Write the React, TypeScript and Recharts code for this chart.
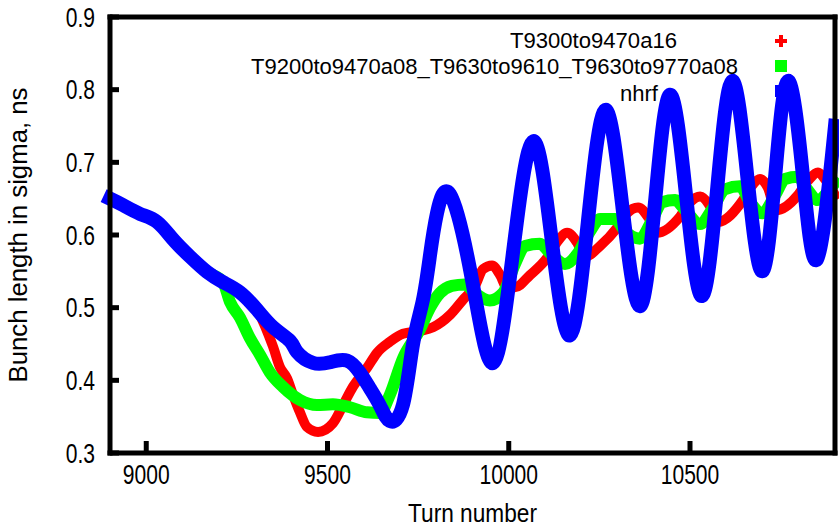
import React from "react";
import { LineChart, Line, XAxis, YAxis, Legend } from "recharts";

// turn numbers and bunch length (sigma, ns)
const nhrfTurns = [
  8900, 8936, 8983, 9030, 9074, 9121, 9168, 9212, 9259, 9306, 9350, 9397, 9416, 9460, 9507, 9554, 9590, 9617, 9645,
  9672, 9708, 9736, 9763, 9783, 9802, 9838, 9898, 9957, 10012, 10067, 10118, 10169, 10218, 10266, 10314, 10362,
  10404, 10445, 10489, 10533, 10575, 10616, 10658, 10699, 10735, 10770, 10810, 10850, 10900,
];
const nhrfSigma = [
  0.65, 0.641, 0.629, 0.618, 0.594, 0.57, 0.549, 0.535, 0.521, 0.497, 0.473, 0.454, 0.439, 0.424, 0.425, 0.427, 0.41,
  0.389, 0.365, 0.344, 0.366, 0.45, 0.51, 0.573, 0.63, 0.656, 0.54, 0.424, 0.577, 0.729, 0.595, 0.462, 0.617, 0.772,
  0.637, 0.502, 0.648, 0.793, 0.655, 0.516, 0.664, 0.812, 0.681, 0.55, 0.681, 0.812, 0.689, 0.566, 0.75,
];

const a16Turns = [
  8900, 8936, 8983, 9030, 9074, 9121, 9168, 9212, 9259, 9306, 9350, 9369, 9388, 9405, 9424, 9443, 9474, 9515, 9543,
  9570, 9609, 9637, 9672, 9708, 9755, 9791, 9838, 9874, 9907, 9929, 9954, 9976, 9995, 10017, 10059, 10108, 10133,
  10161, 10188, 10210, 10252, 10299, 10326, 10357, 10384, 10409, 10472, 10500, 10528, 10555, 10577, 10646, 10671,
  10693, 10715, 10737, 10798, 10826, 10853, 10875, 10900,
];
const a16Sigma = [
  0.65, 0.641, 0.629, 0.618, 0.594, 0.57, 0.549, 0.535, 0.521, 0.497, 0.446, 0.418, 0.403, 0.38, 0.356, 0.336, 0.329,
  0.341, 0.366, 0.391, 0.417, 0.438, 0.453, 0.464, 0.468, 0.473, 0.49, 0.511, 0.53, 0.553, 0.558, 0.545, 0.528, 0.528,
  0.545, 0.57, 0.59, 0.603, 0.59, 0.57, 0.585, 0.61, 0.63, 0.638, 0.625, 0.603, 0.625, 0.645, 0.653, 0.64, 0.618,
  0.648, 0.668, 0.677, 0.665, 0.634, 0.655, 0.675, 0.686, 0.675, 0.655,
];

const a08Turns = [
  8900, 8936, 8983, 9030, 9074, 9121, 9168, 9212, 9231, 9259, 9286, 9314, 9341, 9377, 9424, 9471, 9515, 9562, 9609,
  9645, 9672, 9708, 9755, 9783, 9810, 9843, 9879, 9907, 9948, 9984, 10017, 10045, 10086, 10114, 10155, 10191, 10224,
  10252, 10293, 10321, 10362, 10395, 10423, 10459, 10486, 10528, 10561, 10597, 10638, 10666, 10699, 10735, 10762,
  10798, 10820, 10853, 10881, 10900,
];
const a08Sigma = [
  0.65, 0.641, 0.629, 0.618, 0.594, 0.57, 0.549, 0.535, 0.508, 0.486, 0.458, 0.435, 0.411, 0.391, 0.373, 0.366, 0.367,
  0.363, 0.356, 0.355, 0.38, 0.43, 0.47, 0.5, 0.52, 0.53, 0.532, 0.52, 0.51, 0.52, 0.56, 0.585, 0.588, 0.575, 0.56,
  0.575, 0.605, 0.622, 0.622, 0.605, 0.595, 0.62, 0.645, 0.648, 0.635, 0.615, 0.635, 0.663, 0.667, 0.645, 0.63, 0.655,
  0.677, 0.68, 0.665, 0.648, 0.66, 0.672,
];

const seriesNames = ["T9300to9470a16", "T9200to9470a08_T9630to9610_T9630to9770a08", "nhrf"];
const seriesColors = ["#ff0000", "#00ff00", "#0000ff"];
const xTicks = [9000, 9500, 10000, 10500];
const yTicks = [0.3, 0.4, 0.5, 0.6, 0.7, 0.8, 0.9];

const zip = (turns: number[], sigma: number[]) => turns.map((t, i) => ({ turn: t, sigma: sigma[i] }));
const a16Data = zip(a16Turns, a16Sigma);
const a08Data = zip(a08Turns, a08Sigma);
const nhrfData = zip(nhrfTurns, nhrfSigma);

const FONT = "'Liberation Sans', Arial, sans-serif";

function XTick({ x, y, payload }: any) {
  return (
    <g transform={`translate(${x},${y})`}>
      <text textAnchor="middle" dy="0.72em" fontSize={27} fontFamily={FONT} fill="#000" transform="scale(0.78,1)">
        {payload.value}
      </text>
    </g>
  );
}

function YTick({ x, y, payload }: any) {
  return (
    <g transform={`translate(${x},${y})`}>
      <text textAnchor="end" dy="0.36em" fontSize={27} fontFamily={FONT} fill="#000" transform="scale(0.78,1)">
        {Number(payload.value).toFixed(1)}
      </text>
    </g>
  );
}

function xTitle({ viewBox }: any) {
  const cx = viewBox.x + viewBox.width / 2;
  return (
    <text x={cx - 64.5} y={viewBox.y + 69} fontSize={26} fontFamily={FONT} textLength={129} lengthAdjust="spacingAndGlyphs">
      Turn number
    </text>
  );
}

function yTitle({ viewBox }: any) {
  const cy = viewBox.y + viewBox.height / 2;
  return (
    <text
      transform={`translate(${viewBox.x - 23},${cy}) rotate(-90)`}
      x={-147.5}
      y={0}
      fontSize={26}
      fontFamily={FONT}
      textLength={295}
      lengthAdjust="spacingAndGlyphs"
    >
      Bunch length in sigma, ns
    </text>
  );
}

// key placement as it appears in the picture
const keySlots = [
  { left: 510, baseline: 48, width: 167, cy: 41 },
  { left: 251, baseline: 74, width: 487, cy: 66 },
  { left: 620, baseline: 101, width: 38, cy: 91 },
];

function Key() {
  return (
    <svg width={839} height={110} style={{ display: "block", overflow: "visible" }}>
      {seriesNames.map((name, i) => {
        const s = keySlots[i];
        return (
          <g key={name}>
            <text
              x={s.left}
              y={s.baseline}
              fontSize={22}
              fontFamily={FONT}
              fill="#000"
              textLength={s.width}
              lengthAdjust="spacingAndGlyphs"
            >
              {name}
            </text>
            {i === 0 ? (
              <path d={`M775 ${s.cy} h12 M781 ${s.cy - 6} v12`} stroke={seriesColors[i]} strokeWidth={4} />
            ) : (
              <rect x={775} y={s.cy - 6} width={12} height={12} fill={seriesColors[i]} />
            )}
          </g>
        );
      })}
    </svg>
  );
}

const frame = { stroke: "#000", strokeWidth: 5, strokeLinecap: "square" as const };
const tickMark = { stroke: "#000", strokeWidth: 5 };

export default function App() {
  return (
    <div style={{ position: "absolute", left: 0, top: 0, background: "#fff" }}>
      <LineChart width={839} height={528} margin={{ top: 16, right: 3, bottom: 35, left: 50 }}>
        <XAxis
          dataKey="turn"
          type="number"
          domain={[8900, 10900]}
          ticks={xTicks}
          height={40}
          axisLine={frame}
          tickLine={tickMark}
          tickSize={-12}
          tickMargin={24}
          tick={<XTick />}
          label={xTitle}
          allowDuplicatedCategory={false}
        />
        <XAxis
          xAxisId="top"
          orientation="top"
          dataKey="turn"
          type="number"
          domain={[8900, 10900]}
          ticks={xTicks}
          height={1}
          axisLine={frame}
          tickLine={tickMark}
          tickSize={-12}
          tick={false}
        />
        <YAxis
          type="number"
          domain={[0.3, 0.9]}
          ticks={yTicks}
          width={60}
          axisLine={frame}
          tickLine={tickMark}
          tickSize={-9}
          tickMargin={24}
          tick={<YTick />}
          label={yTitle}
        />
        <YAxis
          yAxisId="right"
          orientation="right"
          type="number"
          domain={[0.3, 0.9]}
          ticks={yTicks}
          width={1}
          axisLine={frame}
          tickLine={tickMark}
          tickSize={-9}
          tick={false}
        />
        <Legend
          layout="horizontal"
          verticalAlign="middle"
          align="center"
          wrapperStyle={{ left: 0, top: 0, width: 839, height: 110 }}
          content={() => <Key />}
        />
        <Line
          data={a16Data}
          dataKey="sigma"
          name={seriesNames[0]}
          type="monotone"
          stroke={seriesColors[0]}
          strokeWidth={10}
          strokeLinecap="square"
          dot={false}
          activeDot={false}
          isAnimationActive={false}
        />
        <Line
          data={a08Data}
          dataKey="sigma"
          name={seriesNames[1]}
          type="monotone"
          stroke={seriesColors[1]}
          strokeWidth={12}
          strokeLinecap="square"
          dot={false}
          activeDot={false}
          isAnimationActive={false}
        />
        <Line
          data={nhrfData}
          dataKey="sigma"
          name={seriesNames[2]}
          type="natural"
          stroke={seriesColors[2]}
          strokeWidth={14}
          strokeLinecap="square"
          dot={false}
          activeDot={false}
          isAnimationActive={false}
        />
      </LineChart>
    </div>
  );
}
